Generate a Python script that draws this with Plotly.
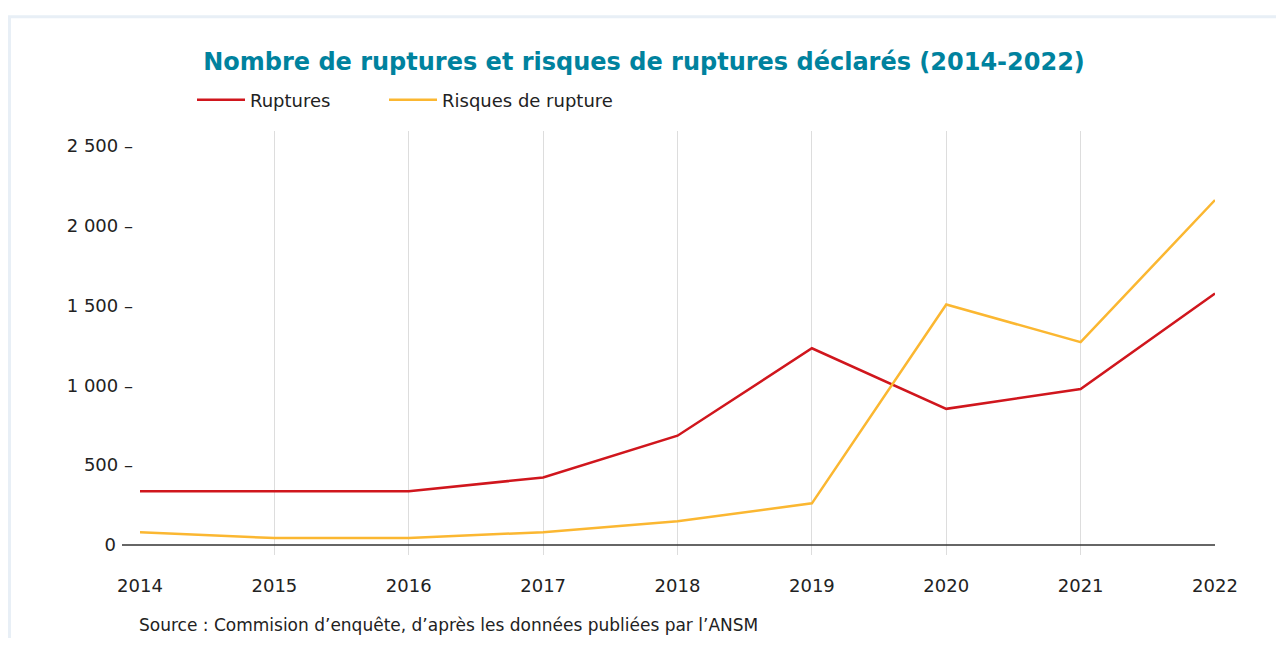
import plotly.graph_objects as go

years = [2014, 2015, 2016, 2017, 2018, 2019, 2020, 2021, 2022]
ruptures = [336, 336, 336, 423, 684, 1231, 852, 976, 1573]
risques = [81, 44, 44, 81, 149, 261, 1505, 1269, 2158]
y_ticks = [0, 500, 1000, 1500, 2000, 2500]
y_tick_labels = ["0\u00a0\u00a0\u00a0", "500 –", "1 000 –", "1 500 –", "2 000 –", "2 500 –"]

FONT = "DejaVu Sans"
OFF = 8  # page body margin offset
W, H = 1284 - 2 * OFF, 646 - 2 * OFF
# target page coordinates of the plot area
L, R, T, B = 140, 1215, 128, 555
Lf, Rf, Tf, Bf = L - OFF, R - OFF, T - OFF, B - OFF

def px_x(px):
    return (px - L) / (R - L)

def px_y(py):
    return (B - py) / (B - T)

fig = go.Figure()
fig.add_trace(go.Scatter(x=years, y=ruptures, mode="lines", name="Ruptures",
                         line=dict(color="#d0161d", width=2.5), legend="legend"))
fig.add_trace(go.Scatter(x=years, y=risques, mode="lines", name="Risques de rupture",
                         line=dict(color="#fbb731", width=2.5), legend="legend2"))

def legend_at(px):
    return dict(orientation="h", xref="container", yref="container",
                x=(px - OFF) / W, xanchor="left", y=1 - (100 - OFF) / H, yanchor="middle",
                font=dict(family=FONT, size=18, color="#222222"),
                itemwidth=48, bgcolor="rgba(0,0,0,0)")

fig.update_layout(
    width=W, height=H,
    margin=dict(l=Lf, r=W - Rf, t=Tf, b=H - Bf),
    paper_bgcolor="white", plot_bgcolor="white",
    font=dict(family=FONT, color="#222222"),
    title=dict(text="<b>Nombre de ruptures et risques de ruptures déclarés (2014-2022)</b>",
               font=dict(family=FONT, size=24, color="#00829e"),
               xref="container", yref="container", x=(644 - OFF) / W, xanchor="center",
               y=1 - (62 - OFF) / H, yanchor="middle"),
    legend=legend_at(192),
    legend2=legend_at(384),
    showlegend=True,
)

fig.update_xaxes(range=[2014, 2022], tickvals=years, ticktext=[str(y) for y in years],
                 showgrid=True, gridcolor="#dddddd", gridwidth=1,
                 zeroline=False, showline=False, ticks="",
                 ticklabelstandoff=18,
                 tickfont=dict(family=FONT, size=18, color="#222222"))
fig.update_yaxes(range=[-62, 2593], tickvals=y_ticks, ticktext=y_tick_labels,
                 showgrid=False, zeroline=False, showline=False, ticks="",
                 ticklabelstandoff=6,
                 tickfont=dict(family=FONT, size=18, color="#222222"))

# zero axis line
fig.add_shape(type="line", xref="paper", yref="y", x0=px_x(122), x1=1, y0=0, y1=0,
              line=dict(color="#333333", width=1.5), layer="above")
# outer frame
fig.add_shape(type="rect", xref="paper", yref="paper",
              x0=px_x(9.5), x1=px_x(1320), y0=px_y(13.5), y1=px_y(720),
              line=dict(color="#e8eff6", width=3), layer="below")

fig.add_annotation(text="Source : Commision d’enquête, d’après les données publiées par l’ANSM",
                   xref="paper", yref="paper", x=px_x(137), y=px_y(625),
                   xanchor="left", yanchor="middle", showarrow=False,
                   font=dict(family=FONT, size=17, color="#222222"))

fig.write_html("out.html")
